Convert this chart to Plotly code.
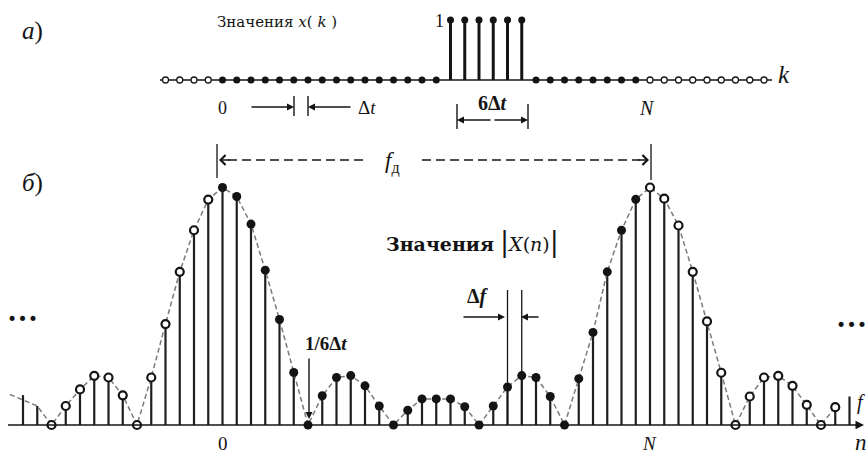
import plotly.graph_objects as go

# ---- data -----------------------------------------------------------------
# top panel: samples x(k), k = -4 .. 38 (period N = 30, pulse of six ones)
k_index = list(range(-4, 39))
pulse_k = [16, 17, 18, 19, 20, 21]
x_values = [1.0 if k in pulse_k else 0.0 for k in k_index]
N_period = 30

# bottom panel: magnitude spectrum |X(n)|, n = -14 .. 44
n_index = list(range(-14, 45))
X_mag = [0.126, 0.08, 0.0, 0.08, 0.15, 0.207, 0.2, 0.125, 0.0, 0.2,
         0.425, 0.645, 0.82, 0.949, 1.0, 0.962, 0.846, 0.652, 0.444, 0.221,
         0.0, 0.123, 0.2, 0.208, 0.165, 0.08, 0.0, 0.062, 0.11, 0.11,
         0.11, 0.077, 0.0, 0.08, 0.16, 0.208, 0.2, 0.12, 0.0, 0.195,
         0.39, 0.645, 0.82, 0.95, 1.0, 0.953, 0.84, 0.645, 0.436, 0.22,
         0.0, 0.12, 0.2, 0.207, 0.165, 0.085, 0.0, 0.075, 0.12]

# ---- geometry helpers -------------------------------------------------------
W, H = 866, 457
X0_PX, STEP_PX = 222.5, 14.25          # pixel of sample 0 and sample spacing
BASE_BOT, PEAK_BOT = 425.0, 187.5      # bottom baseline / unit level (px)
BASE_TOP, PEAK_TOP = 80.0, 20.0        # top baseline / unit level (px)

def px(x):
    return x / W

def py(y):
    return 1 - y / H

def xn(p):
    return (p - X0_PX) / STEP_PX

x_range = [xn(0), xn(W)]
y_lo = -(H - BASE_BOT) / (BASE_BOT - PEAK_BOT)
y_range = [y_lo, y_lo + H / (BASE_BOT - PEAK_BOT)]
y2_lo = -(H - BASE_TOP) / (BASE_TOP - PEAK_TOP)
y2_range = [y2_lo, y2_lo + H / (BASE_TOP - PEAK_TOP)]

SERIF = "DejaVu Serif, Liberation Serif, serif"
TIMES = "Liberation Serif, Times New Roman, serif"
INK = "#141414"

fig = go.Figure()

# ---- top panel ------------------------------------------------------------
fig.add_trace(go.Scatter(x=[xn(160), xn(772)], y=[0, 0], mode="lines",
                         line=dict(color=INK, width=1.4), xaxis="x", yaxis="y2",
                         hoverinfo="skip", showlegend=False))
sx, sy = [], []
for k, v in zip(k_index, x_values):
    if v > 0:
        sx += [k, k, None]
        sy += [0, v, None]
fig.add_trace(go.Scatter(x=sx, y=sy, mode="lines", line=dict(color=INK, width=3),
                         xaxis="x", yaxis="y2", hoverinfo="skip", showlegend=False))
k_in = [k for k in k_index if 0 <= k < N_period]
v_in = [v for k, v in zip(k_index, x_values) if 0 <= k < N_period]
k_out = [k for k in k_index if k < 0 or k >= N_period]
v_out = [v for k, v in zip(k_index, x_values) if k < 0 or k >= N_period]
fig.add_trace(go.Scatter(x=k_in, y=v_in, mode="markers",
                         marker=dict(size=7, color=INK), xaxis="x", yaxis="y2",
                         hoverinfo="skip", showlegend=False))
fig.add_trace(go.Scatter(x=k_out, y=v_out, mode="markers",
                         marker=dict(size=6, color="white", line=dict(color=INK, width=1.3)),
                         xaxis="x", yaxis="y2", hoverinfo="skip", showlegend=False))

# ---- bottom panel -----------------------------------------------------------
bx, by = [], []
for n, v in zip(n_index, X_mag):
    bx += [n, n, None]
    by += [0, v, None]
fig.add_trace(go.Scatter(x=bx, y=by, mode="lines", line=dict(color="#1e1e1e", width=2.2),
                         hoverinfo="skip", showlegend=False))
env_x = [xn(10)] + n_index[1:-1]
env_y = [X_mag[0] * 1.02] + X_mag[1:-1]
fig.add_trace(go.Scatter(x=env_x, y=env_y, mode="lines",
                         line=dict(color="#7a7a7a", width=1.5, dash="5px,3px"),
                         hoverinfo="skip", showlegend=False))
n_fill = [n for n in n_index if 0 <= n < N_period]
v_fill = [v for n, v in zip(n_index, X_mag) if 0 <= n < N_period]
n_open = [n for n in n_index if (-12 <= n < 0) or (N_period <= n <= 43)]
v_open = [v for n, v in zip(n_index, X_mag) if (-12 <= n < 0) or (N_period <= n <= 43)]
fig.add_trace(go.Scatter(x=n_fill, y=v_fill, mode="markers",
                         marker=dict(size=9, color=INK), hoverinfo="skip", showlegend=False))
fig.add_trace(go.Scatter(x=n_open, y=v_open, mode="markers",
                         marker=dict(size=8, color="white", line=dict(color=INK, width=2.2)),
                         hoverinfo="skip", showlegend=False))

shapes = []
def seg(x0, y0, x1, y1, w=1.3, dash=None, color=INK):
    d = dict(type="line", xref="paper", yref="paper",
             x0=px(x0), y0=py(y0), x1=px(x1), y1=py(y1),
             line=dict(color=color, width=w))
    if dash:
        d["line"]["dash"] = dash
    shapes.append(d)

seg(8, BASE_BOT, 858, BASE_BOT, w=1.7)
seg(294, 96, 294, 116, w=1.4)
seg(308, 96, 308, 116, w=1.4)
seg(457, 104, 457, 129, w=1.4)
seg(528, 104, 528, 129, w=1.4)
seg(217, 144, 217, 178, w=1.3)
seg(651, 144, 651, 180, w=1.3)
seg(228, 160, 366, 160, w=1.5, dash="9px,5px")
seg(422, 160, 640, 160, w=1.5, dash="9px,5px")
for n in (20, 21):
    p = X0_PX + STEP_PX * n
    seg(p, 290, p, BASE_BOT, w=1.3)

fig.update_layout(shapes=shapes)

ann = []
def label(text, x, y, size=15, family=SERIF, **kw):
    ann.append(dict(text=text, x=px(x), y=py(y), xref="paper", yref="paper",
                    showarrow=False, font=dict(family=family, size=size, color=INK),
                    xanchor="center", yanchor="middle", **kw))

def arrow(x, y, ax, ay, head=2, size=1.0, width=1.3):
    ann.append(dict(text="", x=px(x), y=py(y), xref="paper", yref="paper",
                    ax=ax, ay=ay, axref="pixel", ayref="pixel", showarrow=True,
                    arrowhead=head, arrowsize=size, arrowwidth=width, arrowcolor=INK))

label("<i>а</i>)", 32, 31, size=25, family=TIMES)
label("<i>б</i>)", 32, 183, size=25, family=TIMES)
label("Значения <i>x</i>( <i>k</i> )", 277, 22, size=15)
label("1", 439, 21, size=18, family=TIMES)
label("<i>k</i>", 784, 74, size=25, family=TIMES)
label("0", 222, 108, size=18, family=TIMES)
label("Δ<i>t</i>", 367, 107, size=19, family=TIMES)
label("<i>N</i>", 647, 108, size=20, family=TIMES)
label("<b>6Δ<i>t</i></b>", 493, 103, size=20, family=TIMES)
label("<i>f</i><sub>д</sub>", 392, 162, size=23, family=TIMES)
label("<b>Значения</b> <span style='font-size:27px'>|</span><i>X</i>(<i>n</i>)<span style='font-size:27px'>|</span>",
      472, 242, size=19)
label("<b>Δ<i>f</i></b>", 478, 296, size=20, family=TIMES)
label("<b>1/6Δ<i>t</i></b>", 326, 343, size=19, family=TIMES)
label("0", 223, 443, size=19, family=TIMES)
label("<i>N</i>", 649, 443, size=19, family=TIMES)
label("<i>n</i>", 861, 442, size=23, family=TIMES)
label("<i>f</i>", 861, 402, size=20, family=TIMES)
label("<b>…</b>", 22, 310, size=31, family=TIMES)
label("<b>…</b>", 851, 316, size=31, family=TIMES)

arrow(294, 107, -44, 0, head=2, size=1.0, width=1.4)
arrow(308, 107, 44, 0, head=2, size=1.0, width=1.4)
arrow(457, 120, 35, 0, head=2, size=1.0, width=1.4)
arrow(528, 120, -35, 0, head=2, size=1.0, width=1.4)
arrow(219, 160, 12, 0, head=4, size=1.3, width=1.5)
arrow(649, 160, -12, 0, head=4, size=1.3, width=1.5)
arrow(505, 317, -43, 0, head=2, size=1.0, width=1.4)
arrow(521, 317, 19, 0, head=2, size=1.0, width=1.4)
arrow(309, 419, 0, -62, head=2, size=1.0, width=1.4)
arrow(864, BASE_BOT, -10, 0, head=2, size=1.0, width=1.7)

fig.update_layout(
    annotations=ann,
    width=W, height=H,
    margin=dict(l=0, r=0, t=0, b=0),
    paper_bgcolor="white", plot_bgcolor="white",
    xaxis=dict(range=x_range, visible=False, fixedrange=True),
    yaxis=dict(range=y_range, visible=False, fixedrange=True),
    yaxis2=dict(range=y2_range, visible=False, overlaying="y", fixedrange=True),
    showlegend=False,
)

fig.write_html("out.html")
